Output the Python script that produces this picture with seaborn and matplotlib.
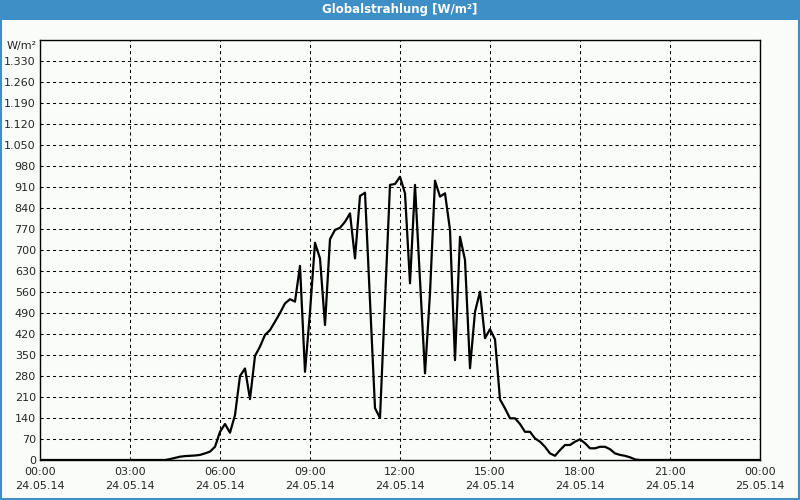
import matplotlib
matplotlib.use('Agg')
import matplotlib.pyplot as plt
from matplotlib.patches import Rectangle
from matplotlib.ticker import FuncFormatter, MultipleLocator
import seaborn as sns
import pandas as pd

# Globalstrahlung 24.05.14, Messwerte (Uhrzeit, W/m²)
zeiten = ['00:00', '04:10', '04:20', '04:30', '04:40', '04:50', '05:00', '05:10', '05:20', '05:30',
          '05:40', '05:50', '06:00', '06:10', '06:20', '06:30', '06:40', '06:50', '07:00', '07:10',
          '07:20', '07:30', '07:40', '07:50', '08:00', '08:10', '08:20', '08:30', '08:40', '08:50',
          '09:00', '09:10', '09:20', '09:30', '09:40', '09:50', '10:00', '10:10', '10:20', '10:30',
          '10:40', '10:50', '11:00', '11:10', '11:20', '11:30', '11:40', '11:50', '12:00', '12:10',
          '12:20', '12:30', '12:40', '12:50', '13:00', '13:10', '13:20', '13:30', '13:40', '13:50',
          '14:00', '14:10', '14:20', '14:30', '14:40', '14:50', '15:00', '15:10', '15:20', '15:30',
          '15:40', '15:50', '16:00', '16:10', '16:20', '16:30', '16:40', '16:50', '17:00', '17:10',
          '17:20', '17:30', '17:40', '17:50', '18:00', '18:10', '18:20', '18:30', '18:40', '18:50',
          '19:00', '19:10', '19:20', '19:30', '19:40', '19:50', '20:00', '24:00']
strahlung = [0, 0, 3, 7, 11, 13, 14, 15, 17, 22,
             28, 44, 94, 120, 91, 150, 280, 305, 203, 347,
             378, 417, 433, 461, 490, 522, 536, 528, 647, 294,
             494, 724, 672, 450, 736, 767, 774, 794, 822, 672,
             880, 891, 530, 173, 140, 530, 917, 920, 944, 889,
             589, 917, 600, 289, 556, 931, 878, 889, 767, 333,
             744, 667, 306, 494, 561, 406, 436, 402, 202, 172,
             139, 139, 120, 94, 94, 72, 61, 44, 22, 14,
             33, 50, 50, 61, 69, 56, 39, 39, 44, 44,
             36, 22, 17, 14, 9, 2, 0, 0]

x_ticks = [0, 3, 6, 9, 12, 15, 18, 21, 24]
x_labels = ['00:00\n24.05.14', '03:00\n24.05.14', '06:00\n24.05.14', '09:00\n24.05.14',
            '12:00\n24.05.14', '15:00\n24.05.14', '18:00\n24.05.14', '21:00\n24.05.14',
            '00:00\n25.05.14']


def stunden(t):
    h, m = t.split(':')
    return int(h) + int(m) / 60


def main():
    df = pd.DataFrame({'stunde': [stunden(t) for t in zeiten], 'wert': strahlung})

    sns.set_style('white')
    plt.rcParams['font.family'] = ['DejaVu Sans']
    bg = '#fafcfa'
    blau = '#3d8fc6'

    fig = plt.figure(figsize=(8, 5), dpi=100, facecolor=bg)
    ax = fig.add_axes([0.05, 0.08, 0.9, 0.84], facecolor=bg)

    sns.lineplot(data=df, x='stunde', y='wert', ax=ax, color='black', linewidth=1.6)

    ax.set_xlim(0, 24)
    ax.set_ylim(0, 1400)
    ax.set_xticks(x_ticks)
    ax.set_xticklabels(x_labels, fontsize=8, linespacing=1.5)
    ax.xaxis.set_minor_locator(MultipleLocator(1))
    ax.set_yticks(range(0, 1331, 70))
    ax.yaxis.set_major_formatter(FuncFormatter(lambda v, p: f'{int(v):,}'.replace(',', '.')))
    ax.tick_params(axis='y', labelsize=8, length=0, pad=3)
    ax.tick_params(axis='x', which='major', length=0, pad=5)
    ax.tick_params(axis='x', which='minor', length=4, width=1, color='black', direction='out')
    ax.set_xlabel('')
    ax.set_ylabel('')
    ax.grid(True, which='major', color='black', linestyle=(0, (3, 3)), linewidth=0.75)
    for s in ax.spines.values():
        s.set_color('black')
        s.set_linewidth(1)

    fig.text(0.046, 1 - 46 / 500, 'W/m²', ha='right', va='center', fontsize=8)

    # Titelleiste und Rahmen
    fig.patches.append(Rectangle((0, 0.96), 1, 0.04, transform=fig.transFigure,
                                 facecolor=blau, edgecolor='none', zorder=0))
    fig.patches.append(Rectangle((0.001, 0.002), 0.998, 0.996, transform=fig.transFigure,
                                 facecolor='none', edgecolor=blau, linewidth=1.5, zorder=5))
    fig.text(0.5, 0.98, 'Globalstrahlung [W/m²]', ha='center', va='center',
             color='white', fontsize=8.5, fontweight='bold')

    fig.savefig('out.png', dpi=100, facecolor=bg)


if __name__ == '__main__':
    main()
